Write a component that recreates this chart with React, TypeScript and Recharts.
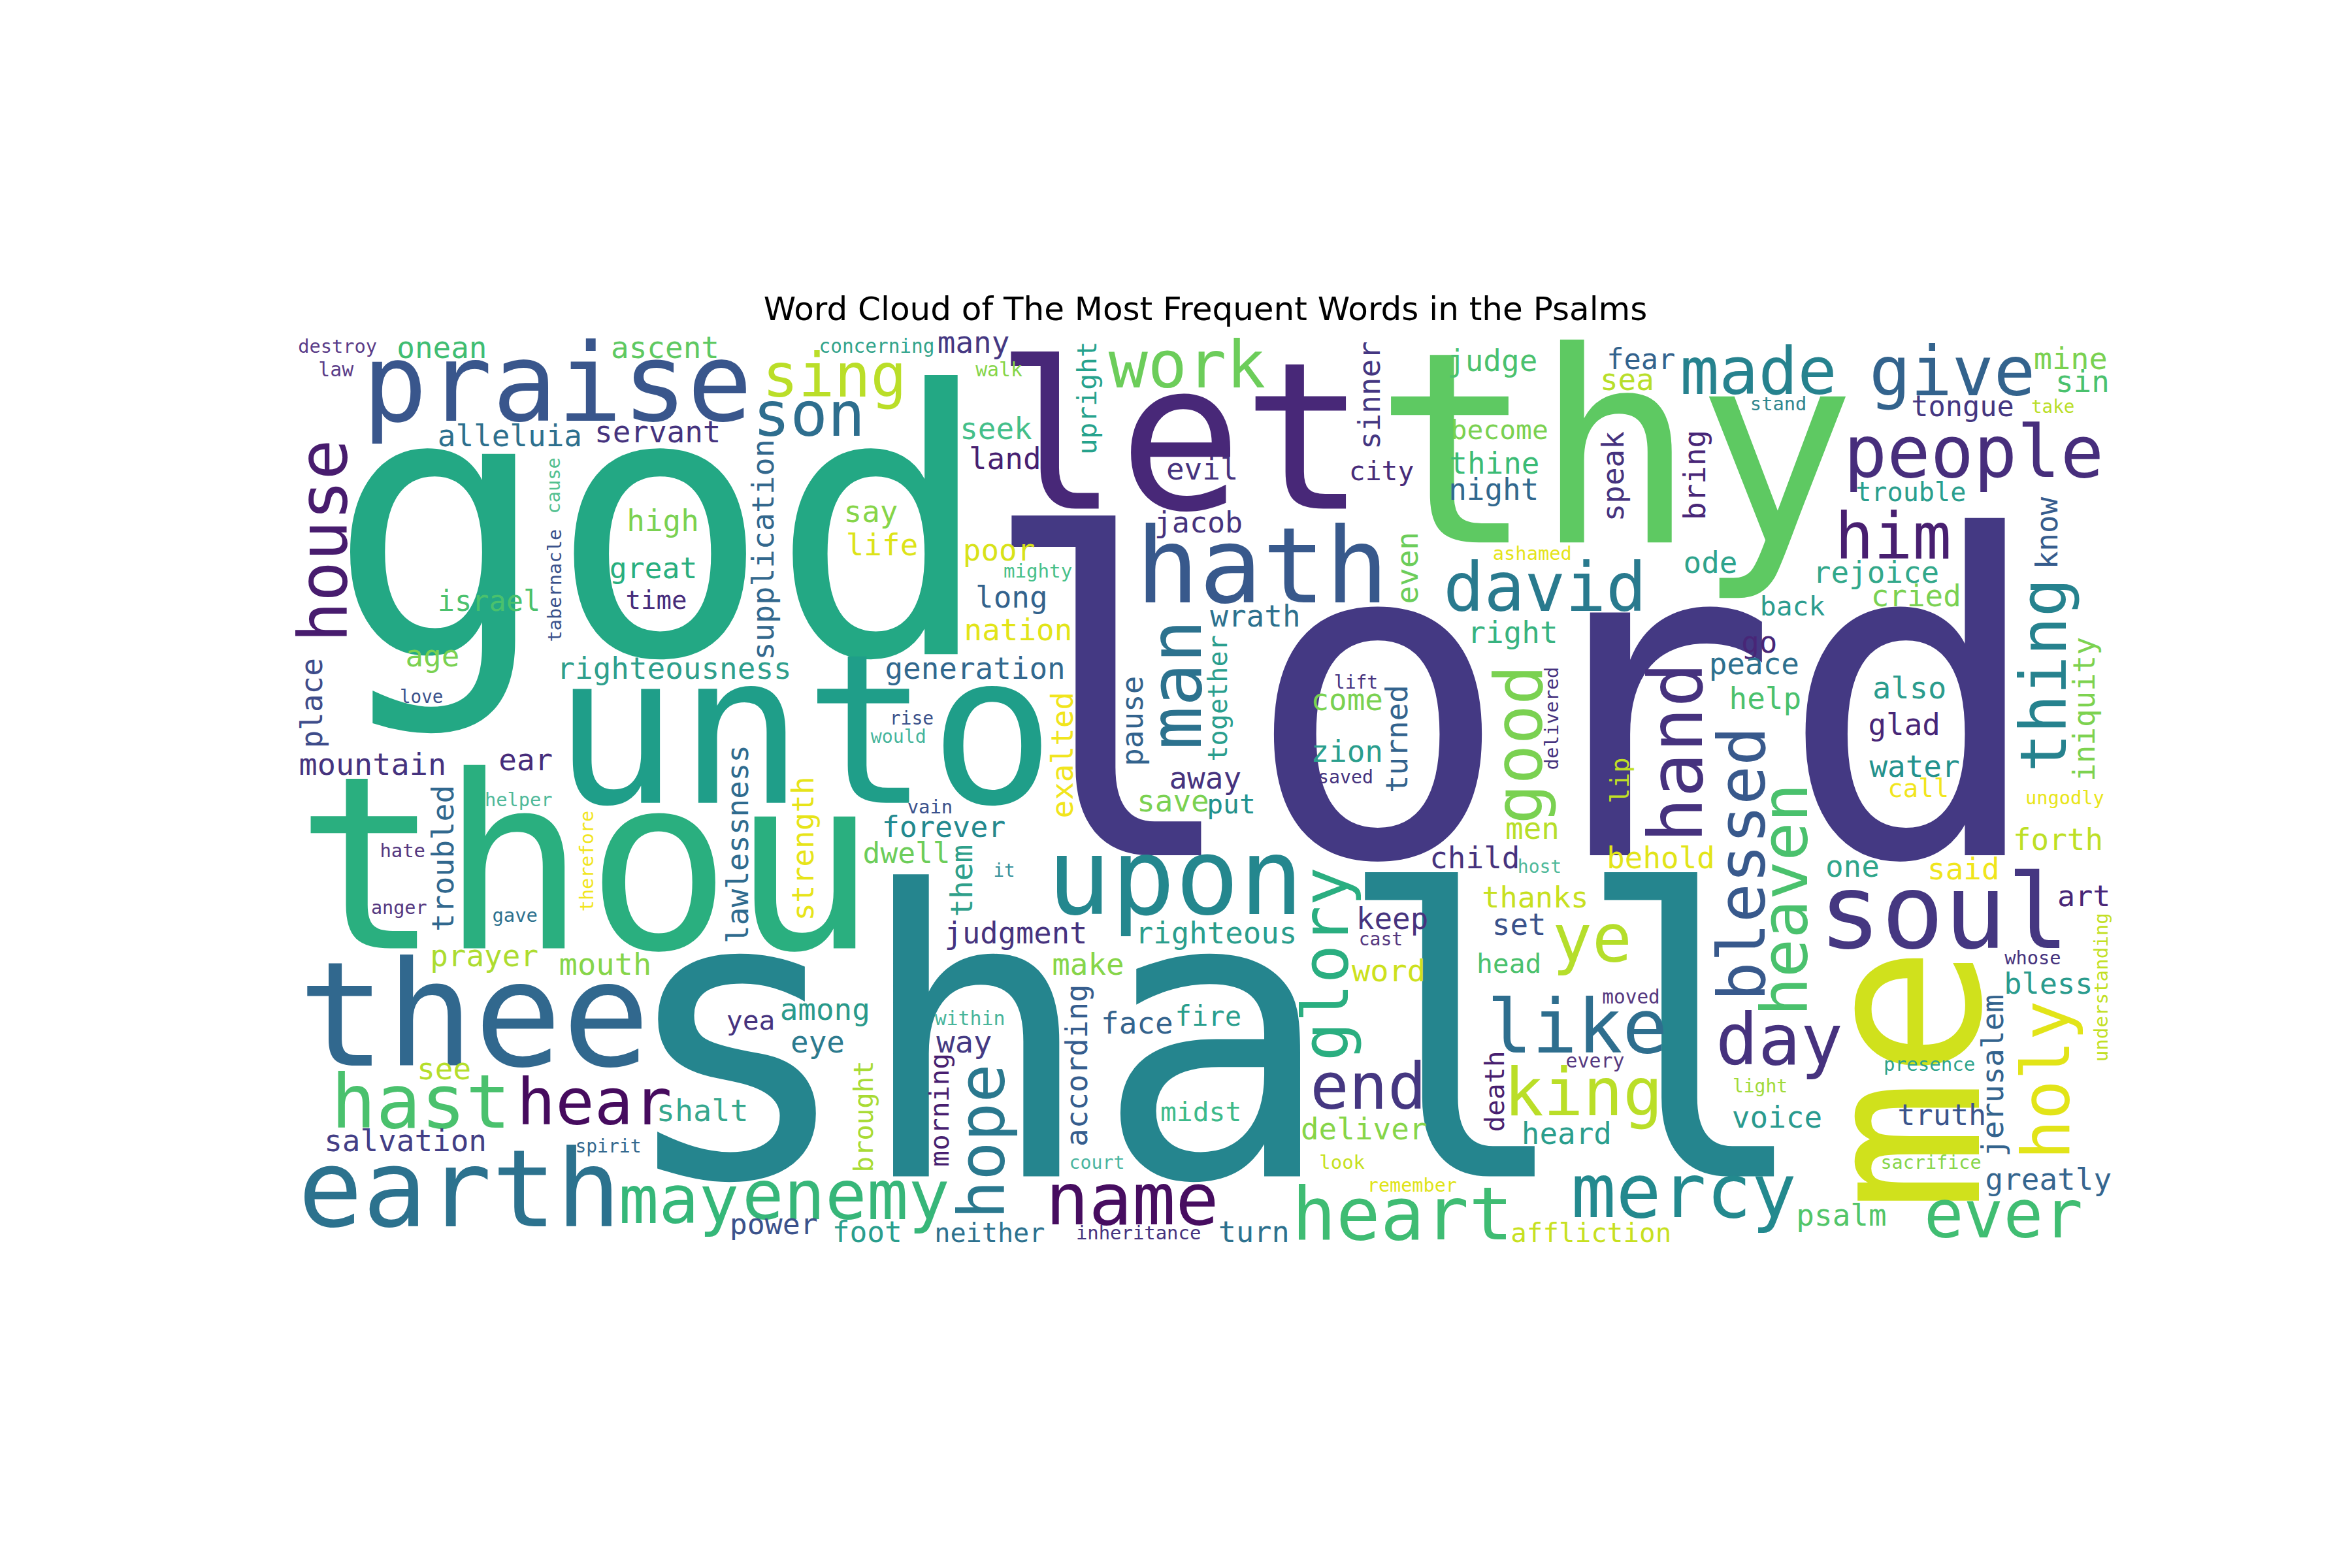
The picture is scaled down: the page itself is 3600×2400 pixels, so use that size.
import React from 'react';
import { ScatterChart, Scatter, XAxis, YAxis } from 'recharts';

// Each row: [word, x (layout units), y (layout units; baseline for horizontal words, centre for vertical), weight, vertical (1 = rotated), colour]
type Row = [string, number, number, number, number, string];

const TITLE = 'Word Cloud of The Most Frequent Words in the Psalms';

const largeWords: Row[] = [
  ['lord', 1007.7, 570, 296, 0, '#443983'],
  ['shall', 809.5, 784, 265, 0, '#25858e'],
  ['god', 440, 436, 245, 0, '#23a884'],
  ['thy', 1076.7, 361.5, 178, 0, '#5ec962'],
  ['thou', 390.7, 632, 161, 0, '#2aaf7f'],
  ['me', 1319.3, 719, 148, 1, '#d0e11c'],
  ['unto', 536, 535, 139, 0, '#1f9e89'],
  ['let', 787, 339, 137, 0, '#482878'],
  ['thee', 316, 710, 97.5, 0, '#31688e'],
  ['praise', 371.5, 280.5, 72, 0, '#39568c'],
  ['earth', 306.3, 817.4, 71.5, 0, '#2c728e'],
  ['upon', 783.5, 609, 71, 0, '#24878e'],
  ['hath', 841.5, 401.4, 70, 0, '#38598c'],
  ['soul', 1296, 632, 69.5, 0, '#453781'],
];

const mediumWords: Row[] = [
  ['hast', 280.6, 751.4, 49.7, 0, '#4ac16d'],
  ['heart', 935, 826, 49, 0, '#3fbc73'],
  ['mercy', 1122.5, 811, 50, 0, '#23898e'],
  ['like', 1051.5, 701.3, 50, 0, '#2e6e8e'],
  ['hand', 1134.5, 501.5, 50, 1, '#46327e'],
  ['people', 1315.8, 317.9, 48, 0, '#472e7c'],
  ['name', 754.8, 816, 48, 0, '#470d60'],
  ['man', 800.5, 456.3, 48, 1, '#2c728e'],
  ['day', 1186.2, 709.3, 47, 0, '#46327e'],
  ['give', 1301.5, 263.5, 46, 0, '#33638d'],
  ['enemy', 564, 812.3, 46, 0, '#37b679'],
  ['house', 231.5, 360.4, 45, 1, '#481c6e'],
  ['david', 1030, 407.3, 45, 0, '#297a8e'],
  ['may', 452.6, 815.2, 44.5, 0, '#35b779'],
  ['good', 1027.9, 496.2, 44, 1, '#7ad151'],
  ['ye', 1061.4, 641, 44, 0, '#b5de2b'],
  ['king', 1055.5, 743.4, 44, 0, '#bade28'],
  ['ever', 1335.6, 824.7, 44, 0, '#40bd72'],
  ['holy', 1379.4, 719.8, 44, 1, '#e2e418'],
  ['made', 1172.3, 262.7, 43.5, 0, '#26828e'],
  ['work', 791.4, 258.4, 43.5, 0, '#6ccd5a'],
  ['blessed', 1176.3, 575.7, 43.5, 1, '#38598c'],
  ['him', 1262.1, 372.4, 43, 0, '#481f70'],
  ['hear', 396.2, 749.2, 43, 0, '#460b5e'],
  ['thing', 1377.4, 450, 43, 1, '#26828e'],
  ['heaven', 1204.9, 599.7, 43, 1, '#4ac16d'],
  ['hope', 669.5, 760.8, 43, 1, '#2a788e'],
  ['glory', 898.6, 642.5, 43, 1, '#2aae80'],
  ['end', 912.2, 739, 43, 0, '#453781'],
  ['son', 539.3, 290.3, 41.5, 0, '#2e6e8e'],
  ['sing', 556.3, 264.2, 40, 0, '#bade28'],
];

const smallWords: Row[] = [
  ['onean', 294.6, 238.8, 20, 0, '#40bd72'],
  ['ascent', 443.4, 238.8, 20, 0, '#5ec962'],
  ['alleluia', 339.9, 297.6, 20, 0, '#2d708e'],
  ['servant', 438.5, 294.7, 20, 0, '#46337e'],
  ['high', 441.9, 353.9, 20, 0, '#7ad151'],
  ['great', 435.6, 385.4, 19.5, 0, '#29af7f'],
  ['israel', 326, 407.3, 19, 0, '#4ac16d'],
  ['time', 437.5, 405.8, 17, 0, '#472c7a'],
  ['many', 649, 235.2, 20, 0, '#453882'],
  ['seek', 664, 292.5, 20, 0, '#44bf8a'],
  ['land', 670, 312.8, 20, 0, '#481f70'],
  ['upright', 730.8, 265.3, 18, 1, '#26a28c'],
  ['say', 580.6, 347.7, 20, 0, '#86d549'],
  ['life', 588, 370.2, 20, 0, '#dde318'],
  ['poor', 666, 373.8, 20, 0, '#d8e219'],
  ['long', 674.4, 405, 20, 0, '#33638d'],
  ['supplication', 515.9, 366.3, 20.4, 1, '#33688d'],
  ['evil', 801.5, 319.4, 20, 0, '#46337e'],
  ['jacob', 799, 355, 19.6, 0, '#46337e'],
  ['sinner', 920, 263.5, 20, 1, '#453781'],
  ['judge', 994.9, 247.5, 20, 0, '#4ac16d'],
  ['fear', 1094, 246.1, 19, 0, '#33638d'],
  ['sea', 1084.7, 259.8, 20, 0, '#b8de29'],
  ['become', 999.7, 292.5, 18, 0, '#7ad151'],
  ['thine', 996.3, 315.7, 20, 0, '#3bbb75'],
  ['night', 995.8, 333.2, 20, 0, '#31688e'],
  ['city', 921, 320.1, 18, 0, '#472c7a'],
  ['speak', 1082.3, 317.5, 20, 1, '#46337e'],
  ['even', 945.3, 378.5, 20, 1, '#6ccd5a'],
  ['mine', 1380.4, 246.1, 20.5, 0, '#7ad151'],
  ['sin', 1388.3, 261.3, 20, 0, '#4ac16d'],
  ['tongue', 1308.4, 277.3, 19, 0, '#453781'],
  ['trouble', 1273.9, 333.9, 17.5, 0, '#2a9e8d'],
  ['bring', 1136.9, 316.5, 20, 1, '#482677'],
  ['know', 1371.5, 355.3, 20, 1, '#365c8d'],
  ['ode', 1140.3, 381.8, 20, 0, '#2ea38c'],
  ['rejoice', 1250.7, 388.4, 20, 0, '#33a88a'],
  ['cried', 1277.4, 404, 20, 0, '#7ad151'],
  ['back', 1195, 410, 18, 0, '#2c9c8e'],
  ['go', 1172.9, 434.9, 20, 0, '#482677'],
  ['peace', 1169.4, 449.4, 20, 0, '#2d708e'],
  ['help', 1176.8, 472.6, 20, 0, '#4ac16d'],
  ['also', 1273, 465.4, 20.5, 0, '#2b9c8d'],
  ['glad', 1269.5, 490, 20, 0, '#482677'],
  ['water', 1276.4, 517.6, 20, 0, '#24928d'],
  ['call', 1278.9, 531.4, 17, 0, '#f1e51d'],
  ['iniquity', 1396.2, 472.6, 20, 1, '#7dd250'],
  ['forth', 1372, 566.3, 20, 0, '#bddf26'],
  ['one', 1235, 584.4, 20, 0, '#2fa68a'],
  ['said', 1309, 585.9, 20, 0, '#f0e51c'],
  ['art', 1389.3, 604, 19.6, 0, '#482677'],
  ['behold', 1107.2, 578.6, 20, 0, '#e2e418'],
  ['child', 983.2, 578.6, 20, 0, '#46337e'],
  ['men', 1021.6, 559, 20, 0, '#b8de29'],
  ['lip', 1086, 520.1, 17, 1, '#c0df25'],
  ['thanks', 1023.5, 604.8, 19.7, 0, '#c7e020'],
  ['keep', 928.2, 619, 20, 0, '#46337e'],
  ['set', 1012.8, 622.9, 20, 0, '#3b528b'],
  ['word', 925.8, 654.1, 20.5, 0, '#cde11d'],
  ['head', 1006, 648.3, 18, 0, '#4ac16d'],
  ['death', 1002.6, 727.4, 18, 1, '#481f70'],
  ['deliver', 909.3, 759.3, 20, 0, '#86d549'],
  ['heard', 1044.4, 762.3, 20, 0, '#2a9e8d'],
  ['turn', 835.9, 827.6, 19.7, 0, '#2d718e'],
  ['affliction', 1060.7, 827.6, 17.8, 0, '#c7e020'],
  ['bless', 1365.6, 662.1, 19.7, 0, '#2a9b8d'],
  ['voice', 1184.7, 751.4, 20, 0, '#2a9a8e'],
  ['truth', 1294.6, 749.9, 19.7, 0, '#3a548c'],
  ['jerusalem', 1335.5, 716.9, 20, 1, '#33638d'],
  ['greatly', 1365.6, 792.7, 20, 0, '#35668f'],
  ['psalm', 1227.6, 816.7, 20, 0, '#52c569'],
  ['wrath', 836.9, 417.4, 20, 0, '#2d718e'],
  ['right', 1008.5, 428.3, 20, 0, '#38b37f'],
  ['together', 817.9, 465.4, 17.5, 1, '#2a9e8d'],
  ['come', 898, 473.3, 20, 0, '#7ad151'],
  ['turned', 938.4, 492.5, 20, 1, '#33638d'],
  ['zion', 898, 507.5, 20, 0, '#2a9e8d'],
  ['away', 803.5, 525.6, 20, 0, '#46337e'],
  ['save', 782, 540.9, 20, 0, '#7ad151'],
  ['put', 820.8, 542.3, 18, 0, '#21918c'],
  ['exalted', 715, 503.2, 20, 1, '#f1e51d'],
  ['pause', 761.9, 480.6, 20, 1, '#33638d'],
  ['nation', 678.8, 426.9, 20, 0, '#e2e418'],
  ['generation', 650.1, 452.3, 20, 0, '#31688e'],
  ['righteousness', 449.5, 452.3, 20, 0, '#2f9f8c'],
  ['forever', 629.2, 557.6, 19.6, 0, '#23898e'],
  ['dwell', 604.4, 575, 19.4, 0, '#6ccd5a'],
  ['them', 648.1, 587, 20, 1, '#2fa08b'],
  ['strength', 542.2, 565.6, 20, 1, '#e7e419'],
  ['lawlessness', 498.5, 562.5, 20, 1, '#2f6b8e'],
  ['judgment', 677.3, 628.7, 19.8, 0, '#46337e'],
  ['righteous', 810.8, 628.7, 19.9, 0, '#2a9e8d'],
  ['make', 725.4, 649.7, 20, 0, '#86d549'],
  ['among', 550, 679.5, 20, 0, '#2a9a8b'],
  ['face', 758, 688.9, 20, 0, '#33638d'],
  ['fire', 805.5, 683.8, 18.4, 0, '#2a9e8d'],
  ['eye', 545.1, 701.3, 20, 0, '#2c7a8e'],
  ['way', 642.8, 701.3, 20.5, 0, '#443a83'],
  ['yea', 500.5, 686, 18, 0, '#46337e'],
  ['according', 724.9, 710, 20, 1, '#365d8d'],
  ['midst', 800.6, 747, 18, 0, '#3cba8a'],
  ['brought', 582, 744.1, 17.7, 1, '#a8db34'],
  ['morning', 632.6, 739.7, 18, 1, '#481f70'],
  ['foot', 578.1, 827.6, 19.4, 0, '#2a9e8d'],
  ['neither', 659.8, 827.6, 17.5, 0, '#2d718e'],
  ['power', 515.8, 822.5, 19.5, 0, '#3b528b'],
  ['prayer', 322.8, 643.9, 20, 0, '#addc30'],
  ['mouth', 403.5, 649.7, 20.5, 0, '#86d549'],
  ['see', 296, 719.4, 20, 0, '#b5de2b'],
  ['shalt', 468.3, 747, 20.4, 0, '#35a78d'],
  ['salvation', 270.3, 767.3, 20, 0, '#433e85'],
  ['place', 214.9, 468.6, 20, 1, '#3e4c8a'],
  ['age', 288.3, 444.3, 20, 0, '#7ad151'],
  ['mountain', 248.4, 516.2, 20.4, 0, '#46337e'],
  ['ear', 350.5, 513.3, 20, 0, '#472c7a'],
  ['troubled', 302.4, 572, 20.3, 1, '#31688e'],
];

const tinyWords: Row[] = [
  ['destroy', 225, 235.2, 12.5, 0, '#5a3c88'],
  ['law', 224, 250.8, 13, 0, '#5a3c88'],
  ['cause', 373.4, 323.7, 12.5, 1, '#52c08f'],
  ['tabernacle', 374.3, 390.2, 12.5, 1, '#3b528b'],
  ['concerning', 584.5, 235.2, 12.8, 0, '#31a38a'],
  ['walk', 666, 250.8, 13, 0, '#86d549'],
  ['mighty', 691.9, 384.7, 12.7, 0, '#48c08a'],
  ['stand', 1185.6, 273.6, 12.5, 0, '#31868e'],
  ['take', 1368.6, 275.1, 12, 0, '#bade28'],
  ['ashamed', 1021.5, 373, 12.5, 0, '#e5e419'],
  ['love', 281, 468.3, 12, 0, '#3b528b'],
  ['helper', 345.7, 537.2, 12.5, 0, '#4fb99a'],
  ['hate', 268.4, 571.4, 12.6, 0, '#55387f'],
  ['anger', 266, 609.1, 12.4, 0, '#55387f'],
  ['gave', 343.3, 614.2, 12.6, 0, '#2d718e'],
  ['therefore', 395.7, 573.9, 12.4, 1, '#f1e51d'],
  ['rise', 607.8, 482.8, 12.2, 0, '#3b528b'],
  ['would', 599, 495.1, 12.3, 0, '#46b59c'],
  ['vain', 620, 542.3, 12.6, 0, '#3b528b'],
  ['it', 669.5, 584.4, 12, 0, '#36909a'],
  ['lift', 904, 458.8, 12.2, 0, '#46337e'],
  ['saved', 897, 522, 12.3, 0, '#46337e'],
  ['delivered', 1039, 478.8, 12.7, 1, '#46337e'],
  ['host', 1026.4, 581.5, 12.2, 0, '#4fb99a'],
  ['ungodly', 1376.5, 535.8, 12.5, 0, '#e9e51a'],
  ['understanding', 1405, 658, 12.7, 1, '#c2df23'],
  ['cast', 920.5, 630.1, 12.2, 0, '#55387f'],
  ['moved', 1087.4, 668.6, 12.8, 0, '#55387f'],
  ['every', 1063.4, 711.4, 13, 0, '#55387f'],
  ['look', 894.7, 779, 12.6, 0, '#c5e021'],
  ['remember', 941.4, 794.2, 12.4, 0, '#dfe318'],
  ['whose', 1355.2, 642.5, 12.5, 0, '#46337e'],
  ['presence', 1286.3, 713.6, 12.7, 0, '#2ea38c'],
  ['light', 1173.4, 728.1, 12.2, 0, '#a0da39'],
  ['sacrifice', 1287.3, 779, 12.4, 0, '#86d549'],
  ['within', 646.6, 683.1, 13, 0, '#48b59b'],
  ['court', 731.3, 779, 12.3, 0, '#4ab5a0'],
  ['inheritance', 759, 826.1, 12.6, 0, '#46337e'],
  ['spirit', 405.5, 768, 12.2, 0, '#35698e'],
];

const titleData = [{ x: 803.6, y: 213.4, text: TITLE }];

const W = 3600;
const H = 2400;
const X_MAX = 1568;
const Y_MAX = 1045;
const K = W / X_MAX;

const toPoints = (rows: Row[]) =>
  rows.map(([text, x, y, size, vertical, color]) => ({ text, x, y, size, vertical, color }));

const WordShape = (props: any) => {
  const { cx, cy, payload } = props;
  if (cx == null || cy == null || !payload) return <g />;
  const fs = payload.size * K;
  return (
    <text
      x={cx}
      y={cy}
      fontSize={fs}
      fill={payload.color}
      fontFamily="'DejaVu Sans Mono', monospace"
      textAnchor="middle"
      transform={payload.vertical ? `rotate(-90 ${cx} ${cy})` : undefined}
    >
      {payload.text}
    </text>
  );
};

const TitleShape = (props: any) => {
  const { cx, cy, payload } = props;
  if (cx == null || cy == null || !payload) return <g />;
  return (
    <text x={cx} y={cy} fontSize={50} fill="#000000" fontFamily="'DejaVu Sans', sans-serif" textAnchor="middle">
      {payload.text}
    </text>
  );
};

export default function App() {
  return (
    <div style={{ position: 'absolute', left: 0, top: 0, width: W, height: H, background: '#ffffff' }}>
      <ScatterChart width={W} height={H} margin={{ top: 0, right: 0, bottom: 0, left: 0 }}>
        <XAxis type="number" dataKey="x" domain={[0, X_MAX]} allowDataOverflow hide />
        <YAxis type="number" dataKey="y" domain={[0, Y_MAX]} allowDataOverflow reversed hide />
        <Scatter data={toPoints(largeWords)} shape={WordShape} isAnimationActive={false} />
        <Scatter data={toPoints(mediumWords)} shape={WordShape} isAnimationActive={false} />
        <Scatter data={toPoints(smallWords)} shape={WordShape} isAnimationActive={false} />
        <Scatter data={toPoints(tinyWords)} shape={WordShape} isAnimationActive={false} />
        <Scatter data={titleData} shape={TitleShape} isAnimationActive={false} />
      </ScatterChart>
    </div>
  );
}
